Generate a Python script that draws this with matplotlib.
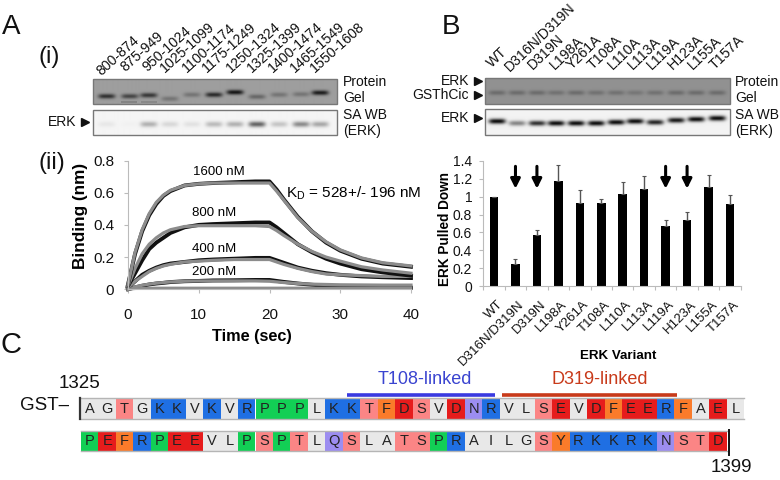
import numpy as np
import matplotlib
matplotlib.use("Agg")
import matplotlib.pyplot as plt
from matplotlib.patches import Rectangle

plt.rcParams['font.family'] = ['Liberation Sans', 'DejaVu Sans']

# panel A gel
frag_labels = ["800-874", "875-949", "950-1024", "1025-1099", "1100-1174", "1175-1249",
               "1250-1324", "1325-1399", "1400-1474", "1465-1549", "1550-1608"]
gel_a_protein = [0.8, 0.65, 0.75, 0.3, 0.3, 0.85, 1.0, 0.4, 0.3, 0.3, 0.95]
gel_a_wb = [0.07, 0.02, 0.35, 0.15, 0.1, 0.3, 0.35, 0.75, 0.25, 0.55, 0.4]

# panel B gel
variants = ["WT", "D316N/D319N", "D319N", "L198A", "Y261A", "T108A",
            "L110A", "L113A", "L119A", "H123A", "L155A", "T157A"]
gel_b_protein = [0.35, 0.35, 0.35, 0.3, 0.35, 0.3, 0.3, 0.25, 0.3, 0.35, 0.35, 0.35]
gel_b_wb = [0.95, 0.45, 0.8, 0.95, 0.95, 0.95, 0.95, 0.95, 0.85, 0.9, 0.95, 0.95]

# panel A binding curves
t = [0, 1, 2, 3, 4, 5, 6, 8, 10, 12, 15, 18, 20, 21, 22, 24, 26, 28, 30, 33, 36, 40]
b1600 = [.03, .22, .36, .46, .53, .58, .61, .645, .655, .66, .665, .67, .67, .62, .56, .45, .36, .29, .24, .19, .16, .14]
f1600 = [.03, .23, .37, .47, .54, .585, .615, .645, .655, .66, .66, .66, .66, .61, .555, .445, .36, .295, .245, .195, .165, .145]
b800 = [.02, .10, .18, .25, .29, .32, .35, .385, .40, .405, .41, .415, .415, .385, .35, .28, .23, .19, .16, .125, .105, .085]
f800 = [.02, .13, .22, .28, .32, .35, .37, .39, .395, .395, .395, .395, .39, .365, .335, .28, .235, .2, .175, .14, .12, .1]
b400 = [.01, .05, .09, .115, .135, .15, .16, .17, .18, .185, .19, .195, .195, .18, .165, .135, .115, .1, .09, .08, .075, .07]
f400 = [.01, .05, .08, .11, .13, .145, .155, .17, .175, .18, .185, .185, .185, .17, .155, .13, .11, .095, .09, .085, .08, .08]
b200 = [.0, .012, .022, .03, .036, .04, .045, .05, .052, .055, .056, .058, .058, .052, .046, .036, .028, .022, .018, .015, .012, .01]
f200 = [.0, .015, .025, .032, .038, .042, .046, .05, .052, .052, .052, .052, .05, .046, .042, .036, .032, .03, .028, .027, .026, .026]
base = [.0, .004, .006, .007, .008, .008, .008, .008, .008, .008, .008, .008, .008, .008, .008, .008, .008, .008, .008, .008, .008, .008]

# panel B bars
erk_vals = [1.0, 0.25, 0.57, 1.18, 0.93, 0.93, 1.03, 1.09, 0.67, 0.74, 1.11, 0.92]
erk_errs = [0.0, 0.05, 0.06, 0.18, 0.15, 0.04, 0.14, 0.14, 0.07, 0.09, 0.13, 0.10]
arrow_idx = [1, 2, 8, 9]

# panel C
seq1 = "AGTGKKVKVRPPPLKKTFDSVDNRVLSEVDFEERFAEL"
seq2 = "PEFRPEEVLPSPTLQSLATSPRAILGSYRKKRKNSTD"
aa_colors = {}
for aa in "AGVLI":
    aa_colors[aa] = "#e8e8e8"
for aa in "TS":
    aa_colors[aa] = "#fb8585"
for aa in "KR":
    aa_colors[aa] = "#1f6fe3"
for aa in "DE":
    aa_colors[aa] = "#e61c1c"
for aa in "FY":
    aa_colors[aa] = "#fa7b2a"
for aa in "NQ":
    aa_colors[aa] = "#9c8df0"
aa_colors["P"] = "#12cf55"


def gel(ax, box, lanes, strengths, bg, dark, ys, bw=8.5, bh=2.4):
    x0, x1, y0, y1 = box
    xx, yy = np.meshgrid(np.arange(x0, x1, 0.5), np.arange(y0, y1, 0.5))
    img = np.zeros_like(xx)
    for lx, s, ly in zip(lanes, strengths, ys):
        img += s * np.exp(-((xx - lx) / bw) ** 4) * np.exp(-((yy - ly) / bh) ** 2)
    img = np.clip(img, 0, 1)
    ax.imshow(bg + (dark - bg) * img, extent=(x0, x1, y1, y0), cmap="gray", vmin=0, vmax=1,
              aspect="auto", zorder=1, interpolation="bilinear")
    ax.add_patch(Rectangle((x0, y0), x1 - x0, y1 - y0, fill=False, ec="#777777", lw=1, zorder=2))


fig = plt.figure(figsize=(7.8, 4.8), dpi=100)
bg = fig.add_axes([0, 0, 1, 1])
bg.axis("off")

lanes_a = [106, 129, 148, 169, 191, 213, 234, 256, 278, 300, 319]
ys_a = [96, 96, 95, 98.5, 94.5, 94.5, 92, 96.5, 94.5, 94, 92.5]
gel(bg, (92.5, 337, 79, 104), lanes_a, gel_a_protein, 0.62, 0.08, ys_a)
gel(bg, (92.5, 337, 110, 135), lanes_a, gel_a_wb, 0.96, 0.2, [124] * 11, bh=2.8)
# second band under the bands in lanes 2 and 3
bg.add_patch(Rectangle((121, 100.5), 16, 2.5, fc="#707070", ec="none", alpha=0.55, zorder=2))
bg.add_patch(Rectangle((141, 100.5), 16, 2.5, fc="#707070", ec="none", alpha=0.45, zorder=2))

lanes_b = [497, 517, 537, 556, 576, 596, 616, 635, 655, 676, 696, 717]
gel(bg, (485, 730, 78, 104), lanes_b, gel_b_protein, 0.57, 0.15, [92.5] * 12)
gel(bg, (485, 730, 109, 135), lanes_b, gel_b_wb, 0.95, 0.0, [121, 123, 123, 123, 123, 123, 122, 121, 122, 120, 119, 118], bh=2.6)

lab_a_x = [101, 125, 147, 165, 187, 207, 231, 252, 273, 295, 315]
lab_a_y = [76, 72, 72, 73, 73, 73, 73, 73, 73, 73, 73]
for lab, x, y in zip(frag_labels, lab_a_x, lab_a_y):
    bg.text(x, y, lab, rotation=42, rotation_mode="anchor", ha="left", va="baseline", fontsize=10.2, color="#111111")

lab_b_x = [492, 510, 533, 555, 572, 593, 613, 633, 652, 673, 693, 715]
lab_b_y = [68, 72, 70, 70, 70, 70, 70, 70, 70, 70, 70, 70]
for lab, x, y in zip(variants, lab_b_x, lab_b_y):
    bg.text(x, y, lab, rotation=44, rotation_mode="anchor", ha="left", va="baseline", fontsize=10.2, color="#111111")

for x, y, s in [(343, 82.5, "Protein"), (343, 98, "Gel"), (343, 115, "SA WB"), (343, 131.5, "(ERK)"),
                (735, 82.5, "Protein"), (735, 98, "Gel"), (735, 115, "SA WB"), (735, 131.5, "(ERK)")]:
    bg.text(x, y, s, fontsize=10, va="center", ha="left", color="#111111")

for x, y, s in [(76, 122, "ERK"), (469, 81, "ERK"), (469, 95, "GSThCic"), (469, 118, "ERK")]:
    bg.text(x, y, s, fontsize=10, va="center", ha="right", color="#111111")
    bg.plot([x + 9], [y], marker=">", ms=5.5, color="#111111", ls="none", zorder=3)

bg.text(2, 27, "A", fontsize=20, va="center", color="#111111")
bg.text(442, 27, "B", fontsize=20, va="center", color="#111111")
bg.text(1, 345, "C", fontsize=21, va="center", color="#111111")
bg.text(38, 57, "(i)", fontsize=17, va="center", color="#111111")
bg.text(38, 163, "(ii)", fontsize=17, va="center", color="#111111")

# sequence rows
cell_w = 17.45
for seq, top, bot in [(seq1, 398, 419), (seq2, 431, 451)]:
    for i, aa in enumerate(seq):
        bg.add_patch(Rectangle((81 + i * cell_w, top), cell_w, bot - top, fc=aa_colors[aa], ec="none", zorder=1))
        bg.text(81 + (i + 0.5) * cell_w, (top + bot) / 2 + 0.3, aa, ha="center", va="center",
                fontsize=10.5, color="#222222", zorder=3)
    end = 81 + len(seq) * cell_w
    bg.plot([81, end], [top, top], color="#b5b5b5", lw=1, zorder=2)
    bg.plot([81, end], [bot, bot], color="#b5b5b5", lw=1, zorder=2)

bg.plot([79.5, 79.5], [398, 419], color="#333333", lw=1.6, zorder=4)
bg.plot([729, 729], [430, 455], color="#111111", lw=1.4, zorder=4)
bg.plot([346.5, 495], [394.5, 394.5], color="#3a3ae0", lw=2.6, solid_capstyle="butt")
bg.plot([501.5, 676.5], [394.5, 394.5], color="#c83a1a", lw=2.6, solid_capstyle="butt")
bg.text(425, 379, "T108-linked", fontsize=13, color="#3a44d0", ha="center", va="center")
bg.text(599.5, 380, "D319-linked", fontsize=13, color="#c83a1a", ha="center", va="center")
bg.text(79, 383, "1325", fontsize=13.5, ha="center", va="center", color="#111111")
bg.text(20, 405, "GST–", fontsize=13.5, ha="left", va="center", color="#111111")
bg.text(731, 467, "1399", fontsize=13.5, ha="center", va="center", color="#111111")

bg.set_xlim(0, 780)
bg.set_ylim(480, 0)

# binding curves
ax1 = fig.add_axes([128 / 780, 1 - 289.3 / 480, 283 / 780, 128.8 / 480])
ax1.patch.set_alpha(0)
for black, fit in [(b200, f200), (b400, f400), (b800, f800), (b1600, f1600)]:
    ax1.plot(t, black, color="#111111", lw=2.8, clip_on=False)
    ax1.plot(t, fit, color="#8c8c8c", lw=2.3, clip_on=False)
ax1.plot(t, base, color="#8c8c8c", lw=2, clip_on=False)
ax1.set_xlim(0, 40)
ax1.set_ylim(0, 0.8)
ax1.set_xticks([0, 10, 20, 30, 40])
ax1.set_yticks([0, 0.2, 0.4, 0.6, 0.8])
ax1.set_yticklabels(["0", "0.2", "0.4", "0.6", "0.8"])
ax1.tick_params(labelsize=11, color="#bbbbbb", length=3, pad=7, labelcolor="#111111")
ax1.tick_params(axis="x", pad=10.5)
for s in ["top", "right"]:
    ax1.spines[s].set_visible(False)
for s in ["left", "bottom"]:
    ax1.spines[s].set_color("#bbbbbb")
fig.text(252 / 780, 1 - 337 / 480, "Time (sec)", fontsize=11.7, fontweight="bold", ha="center", va="center")
fig.text(80 / 780, 1 - 216 / 480, "Binding (nm)", fontsize=12.3, fontweight="bold", rotation=90, ha="center", va="center")
ax1.text(12.8, 0.729, "1600 nM", ha="center", va="center", fontsize=9.5)
ax1.text(12.2, 0.474, "800 nM", ha="center", va="center", fontsize=9.5)
ax1.text(12.2, 0.25, "400 nM", ha="center", va="center", fontsize=9.5)
ax1.text(12.2, 0.107, "200 nM", ha="center", va="center", fontsize=9.5)
ax1.text(22.3, 0.6, r"K$_{\mathregular{D}}$ = 528+/- 196 nM", ha="left", va="center", fontsize=11)

# ERK bars
ax2 = fig.add_axes([483.3 / 780, 1 - 286 / 480, 257.4 / 780, 125 / 480])
ax2.patch.set_alpha(0)
pos = np.arange(len(variants)) + 0.5
ax2.bar(pos, erk_vals, width=0.4, color="black",
        yerr=[np.zeros(len(erk_errs)), erk_errs], ecolor="#555555",
        error_kw=dict(lw=1, capsize=1.5, capthick=0.8))
for i in arrow_idx:
    ax2.annotate("", xy=(pos[i], 1.09), xytext=(pos[i], 1.34),
                 arrowprops=dict(arrowstyle="-|>", lw=2.2, mutation_scale=14, color="black", shrinkA=0, shrinkB=0))
ax2.set_xlim(0, len(variants))
ax2.set_ylim(0, 1.4)
ax2.set_yticks([0, 0.2, 0.4, 0.6, 0.8, 1, 1.2, 1.4])
ax2.set_yticklabels(["0", "0.2", "0.4", "0.6", "0.8", "1", "1.2", "1.4"])
ax2.set_xticks(np.arange(len(variants) + 1))
ax2.set_xticklabels([])
for p, lab in zip(pos, variants):
    ax2.annotate(lab, xy=(p, 0), xytext=(2, -9), textcoords="offset points", rotation=45,
                 rotation_mode="anchor", ha="right", va="top", fontsize=9.5, color="#111111")
ax2.tick_params(labelsize=10, color="#bbbbbb", length=3, pad=5, labelcolor="#111111")
for s in ["top", "right"]:
    ax2.spines[s].set_visible(False)
for s in ["left", "bottom"]:
    ax2.spines[s].set_color("#bbbbbb")
fig.text(445 / 780, 1 - 229 / 480, "ERK Pulled Down", fontsize=9.8, fontweight="bold", rotation=90, ha="center", va="center")
fig.text(618 / 780, 1 - 356 / 480, "ERK Variant", fontsize=9.6, fontweight="bold", ha="center", va="center")

fig.savefig("out.png", dpi=100)
